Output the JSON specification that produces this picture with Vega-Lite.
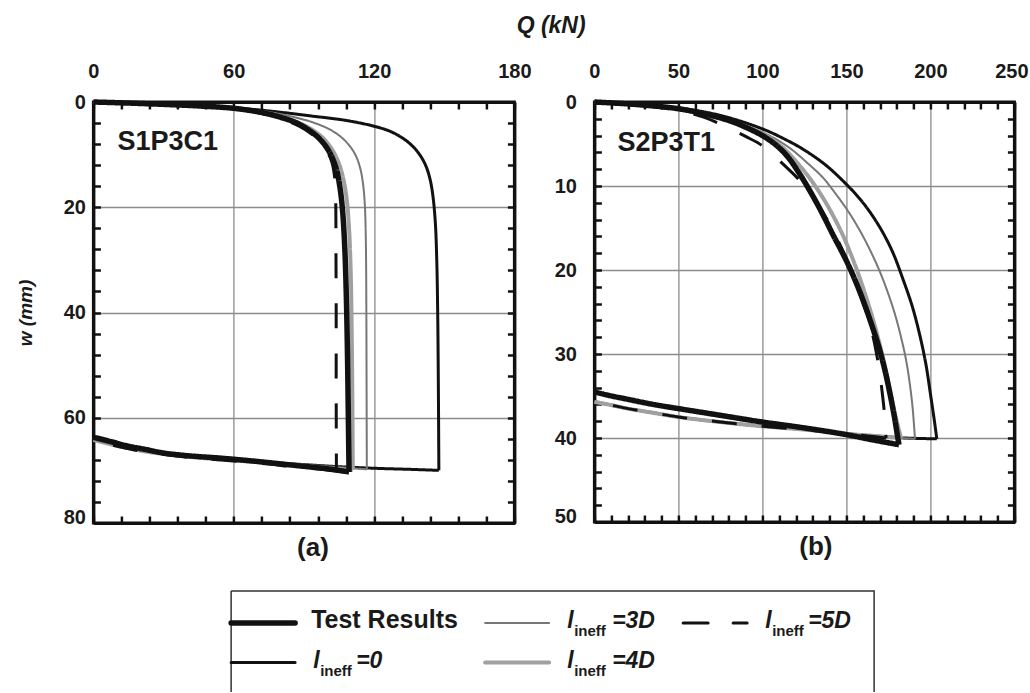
{
  "$schema": "https://vega.github.io/schema/vega-lite/v6.json",
  "background": "white",
  "padding": {"left": 14, "top": 14, "right": 0, "bottom": 0},
  "title": {"text": "Q (kN)", "font": "Liberation Sans", "fontSize": 23, "fontStyle": "italic", "fontWeight": "bold", "color": "#1a1a1a", "anchor": "middle", "dx": 29, "offset": 22},
  "datasets": {
    "a": [
      {"s":"lineff=0","g":"load","i":0,"Q":0,"w":0},{"s":"lineff=0","g":"load","i":1,"Q":15,"w":0.2},{"s":"lineff=0","g":"load","i":2,"Q":30,"w":0.4},{"s":"lineff=0","g":"load","i":3,"Q":45,"w":0.7},{"s":"lineff=0","g":"load","i":4,"Q":60,"w":1.1},{"s":"lineff=0","g":"load","i":5,"Q":75,"w":1.7},{"s":"lineff=0","g":"load","i":6,"Q":94,"w":2.7},{"s":"lineff=0","g":"load","i":7,"Q":108,"w":3.5},{"s":"lineff=0","g":"load","i":8,"Q":120,"w":4.6},{"s":"lineff=0","g":"load","i":9,"Q":127,"w":5.6},{"s":"lineff=0","g":"load","i":10,"Q":132,"w":6.8},{"s":"lineff=0","g":"load","i":11,"Q":136,"w":8.2},{"s":"lineff=0","g":"load","i":12,"Q":139.5,"w":10},{"s":"lineff=0","g":"load","i":13,"Q":142.2,"w":12.2},{"s":"lineff=0","g":"load","i":14,"Q":144,"w":14.8},{"s":"lineff=0","g":"load","i":15,"Q":145.2,"w":18},{"s":"lineff=0","g":"load","i":16,"Q":146.2,"w":23},{"s":"lineff=0","g":"load","i":17,"Q":146.8,"w":30},{"s":"lineff=0","g":"load","i":18,"Q":147.2,"w":40},{"s":"lineff=0","g":"load","i":19,"Q":147.5,"w":55},{"s":"lineff=0","g":"load","i":20,"Q":147.7,"w":70},
      {"s":"lineff=0","g":"unload","i":21,"Q":147.7,"w":70},{"s":"lineff=0","g":"unload","i":22,"Q":135,"w":69.8},{"s":"lineff=0","g":"unload","i":23,"Q":120,"w":69.6},{"s":"lineff=0","g":"unload","i":24,"Q":105,"w":69.3},{"s":"lineff=0","g":"unload","i":25,"Q":90,"w":68.9},{"s":"lineff=0","g":"unload","i":26,"Q":75,"w":68.5},{"s":"lineff=0","g":"unload","i":27,"Q":60,"w":68.0},{"s":"lineff=0","g":"unload","i":28,"Q":45,"w":67.5},{"s":"lineff=0","g":"unload","i":29,"Q":32,"w":66.9},{"s":"lineff=0","g":"unload","i":30,"Q":22,"w":66.3},{"s":"lineff=0","g":"unload","i":31,"Q":14,"w":65.6},{"s":"lineff=0","g":"unload","i":32,"Q":7,"w":64.9},{"s":"lineff=0","g":"unload","i":33,"Q":0,"w":64.1},
      {"s":"lineff=3D","g":"load","i":0,"Q":0,"w":0},{"s":"lineff=3D","g":"load","i":1,"Q":15,"w":0.2},{"s":"lineff=3D","g":"load","i":2,"Q":30,"w":0.4},{"s":"lineff=3D","g":"load","i":3,"Q":45,"w":0.7},{"s":"lineff=3D","g":"load","i":4,"Q":60,"w":1.1},{"s":"lineff=3D","g":"load","i":5,"Q":75,"w":1.9},{"s":"lineff=3D","g":"load","i":6,"Q":86,"w":2.9},{"s":"lineff=3D","g":"load","i":7,"Q":94,"w":3.9},{"s":"lineff=3D","g":"load","i":8,"Q":101,"w":5.2},{"s":"lineff=3D","g":"load","i":9,"Q":106,"w":6.7},{"s":"lineff=3D","g":"load","i":10,"Q":110,"w":8.6},{"s":"lineff=3D","g":"load","i":11,"Q":112.5,"w":10.5},{"s":"lineff=3D","g":"load","i":12,"Q":114.3,"w":13},{"s":"lineff=3D","g":"load","i":13,"Q":115.4,"w":16},{"s":"lineff=3D","g":"load","i":14,"Q":116.1,"w":20},{"s":"lineff=3D","g":"load","i":15,"Q":116.5,"w":27},{"s":"lineff=3D","g":"load","i":16,"Q":116.7,"w":40},{"s":"lineff=3D","g":"load","i":17,"Q":116.8,"w":55},{"s":"lineff=3D","g":"load","i":18,"Q":116.9,"w":69.8},
      {"s":"lineff=3D","g":"unload","i":19,"Q":116.9,"w":69.8},{"s":"lineff=3D","g":"unload","i":20,"Q":105,"w":69.4},{"s":"lineff=3D","g":"unload","i":21,"Q":90,"w":68.9},{"s":"lineff=3D","g":"unload","i":22,"Q":75,"w":68.5},{"s":"lineff=3D","g":"unload","i":23,"Q":60,"w":68.0},{"s":"lineff=3D","g":"unload","i":24,"Q":45,"w":67.5},{"s":"lineff=3D","g":"unload","i":25,"Q":32,"w":66.9},{"s":"lineff=3D","g":"unload","i":26,"Q":22,"w":66.3},{"s":"lineff=3D","g":"unload","i":27,"Q":14,"w":65.6},{"s":"lineff=3D","g":"unload","i":28,"Q":7,"w":64.9},{"s":"lineff=3D","g":"unload","i":29,"Q":0,"w":64.1},
      {"s":"lineff=4D","g":"load","i":0,"Q":0,"w":0},{"s":"lineff=4D","g":"load","i":1,"Q":15,"w":0.2},{"s":"lineff=4D","g":"load","i":2,"Q":30,"w":0.45},{"s":"lineff=4D","g":"load","i":3,"Q":45,"w":0.75},{"s":"lineff=4D","g":"load","i":4,"Q":60,"w":1.15},{"s":"lineff=4D","g":"load","i":5,"Q":72,"w":2.0},{"s":"lineff=4D","g":"load","i":6,"Q":81,"w":2.9},{"s":"lineff=4D","g":"load","i":7,"Q":88,"w":4.0},{"s":"lineff=4D","g":"load","i":8,"Q":94,"w":5.4},{"s":"lineff=4D","g":"load","i":9,"Q":98.5,"w":7.0},{"s":"lineff=4D","g":"load","i":10,"Q":102,"w":9},{"s":"lineff=4D","g":"load","i":11,"Q":104.8,"w":11.5},{"s":"lineff=4D","g":"load","i":12,"Q":106.8,"w":14.5},{"s":"lineff=4D","g":"load","i":13,"Q":108.3,"w":18.5},{"s":"lineff=4D","g":"load","i":14,"Q":109.3,"w":24},{"s":"lineff=4D","g":"load","i":15,"Q":110,"w":32},{"s":"lineff=4D","g":"load","i":16,"Q":110.4,"w":42},{"s":"lineff=4D","g":"load","i":17,"Q":110.7,"w":55},{"s":"lineff=4D","g":"load","i":18,"Q":110.9,"w":69.9},
      {"s":"lineff=4D","g":"unload","i":19,"Q":110.9,"w":69.9},{"s":"lineff=4D","g":"unload","i":20,"Q":100,"w":69.6},{"s":"lineff=4D","g":"unload","i":21,"Q":90,"w":69.1},{"s":"lineff=4D","g":"unload","i":22,"Q":75,"w":68.6},{"s":"lineff=4D","g":"unload","i":23,"Q":60,"w":68.1},{"s":"lineff=4D","g":"unload","i":24,"Q":45,"w":67.6},{"s":"lineff=4D","g":"unload","i":25,"Q":32,"w":67.0},{"s":"lineff=4D","g":"unload","i":26,"Q":22,"w":66.4},{"s":"lineff=4D","g":"unload","i":27,"Q":14,"w":65.7},{"s":"lineff=4D","g":"unload","i":28,"Q":7,"w":65.0},{"s":"lineff=4D","g":"unload","i":29,"Q":0,"w":64.2},
      {"s":"Test Results","g":"load","i":0,"Q":0,"w":0},{"s":"Test Results","g":"load","i":1,"Q":15,"w":0.2},{"s":"Test Results","g":"load","i":2,"Q":30,"w":0.45},{"s":"Test Results","g":"load","i":3,"Q":45,"w":0.75},{"s":"Test Results","g":"load","i":4,"Q":60,"w":1.2},{"s":"Test Results","g":"load","i":5,"Q":72,"w":2.0},{"s":"Test Results","g":"load","i":6,"Q":80,"w":2.9},{"s":"Test Results","g":"load","i":7,"Q":87,"w":4.0},{"s":"Test Results","g":"load","i":8,"Q":92,"w":5.3},{"s":"Test Results","g":"load","i":9,"Q":96,"w":6.7},{"s":"Test Results","g":"load","i":10,"Q":99.5,"w":8.5},{"s":"Test Results","g":"load","i":11,"Q":102,"w":10.5},{"s":"Test Results","g":"load","i":12,"Q":104,"w":13},{"s":"Test Results","g":"load","i":13,"Q":105.5,"w":16.5},{"s":"Test Results","g":"load","i":14,"Q":106.6,"w":21},{"s":"Test Results","g":"load","i":15,"Q":107.5,"w":28},{"s":"Test Results","g":"load","i":16,"Q":108.2,"w":38},{"s":"Test Results","g":"load","i":17,"Q":108.7,"w":50},{"s":"Test Results","g":"load","i":18,"Q":109,"w":60},{"s":"Test Results","g":"load","i":19,"Q":109.3,"w":70.3},
      {"s":"Test Results","g":"unload","i":20,"Q":109.3,"w":70.3},{"s":"Test Results","g":"unload","i":21,"Q":100,"w":69.7},{"s":"Test Results","g":"unload","i":22,"Q":85,"w":69.0},{"s":"Test Results","g":"unload","i":23,"Q":70,"w":68.3},{"s":"Test Results","g":"unload","i":24,"Q":55,"w":67.7},{"s":"Test Results","g":"unload","i":25,"Q":40,"w":67.2},{"s":"Test Results","g":"unload","i":26,"Q":30,"w":66.7},{"s":"Test Results","g":"unload","i":27,"Q":22,"w":66.0},{"s":"Test Results","g":"unload","i":28,"Q":15,"w":65.4},{"s":"Test Results","g":"unload","i":29,"Q":8,"w":64.6},{"s":"Test Results","g":"unload","i":30,"Q":0,"w":63.7},
      {"s":"lineff=5D","g":"load","i":0,"Q":0,"w":0},{"s":"lineff=5D","g":"load","i":1,"Q":15,"w":0.2},{"s":"lineff=5D","g":"load","i":2,"Q":30,"w":0.45},{"s":"lineff=5D","g":"load","i":3,"Q":45,"w":0.8},{"s":"lineff=5D","g":"load","i":4,"Q":60,"w":1.25},{"s":"lineff=5D","g":"load","i":5,"Q":72,"w":2.2},{"s":"lineff=5D","g":"load","i":6,"Q":81,"w":3.3},{"s":"lineff=5D","g":"load","i":7,"Q":88,"w":4.6},{"s":"lineff=5D","g":"load","i":8,"Q":93,"w":6.0},{"s":"lineff=5D","g":"load","i":9,"Q":97,"w":7.6},{"s":"lineff=5D","g":"load","i":10,"Q":100,"w":9.4},{"s":"lineff=5D","g":"load","i":11,"Q":102,"w":11.5},{"s":"lineff=5D","g":"load","i":12,"Q":103.2,"w":14.5},{"s":"lineff=5D","g":"load","i":13,"Q":103.6,"w":19},{"s":"lineff=5D","g":"load","i":14,"Q":103.7,"w":28},{"s":"lineff=5D","g":"load","i":15,"Q":103.8,"w":40},{"s":"lineff=5D","g":"load","i":16,"Q":103.8,"w":55},{"s":"lineff=5D","g":"load","i":17,"Q":103.9,"w":70.1},
      {"s":"lineff=5D","g":"unload","i":18,"Q":103.9,"w":70.1},{"s":"lineff=5D","g":"unload","i":19,"Q":95,"w":69.7},{"s":"lineff=5D","g":"unload","i":20,"Q":85,"w":69.3},{"s":"lineff=5D","g":"unload","i":21,"Q":75,"w":68.8},{"s":"lineff=5D","g":"unload","i":22,"Q":60,"w":68.2},{"s":"lineff=5D","g":"unload","i":23,"Q":45,"w":67.7},{"s":"lineff=5D","g":"unload","i":24,"Q":32,"w":67.1},{"s":"lineff=5D","g":"unload","i":25,"Q":22,"w":66.5},{"s":"lineff=5D","g":"unload","i":26,"Q":14,"w":65.8},{"s":"lineff=5D","g":"unload","i":27,"Q":7,"w":65.1},{"s":"lineff=5D","g":"unload","i":28,"Q":0,"w":64.3}
    ],
    "b": [
      {"s":"lineff=0","g":"load","i":0,"Q":0,"w":0},{"s":"lineff=0","g":"load","i":1,"Q":25,"w":0.3},{"s":"lineff=0","g":"load","i":2,"Q":50,"w":0.7},{"s":"lineff=0","g":"load","i":3,"Q":75,"w":1.6},{"s":"lineff=0","g":"load","i":4,"Q":100,"w":3.2},{"s":"lineff=0","g":"load","i":5,"Q":115,"w":4.6},{"s":"lineff=0","g":"load","i":6,"Q":124,"w":5.6},{"s":"lineff=0","g":"load","i":7,"Q":137,"w":7.4},{"s":"lineff=0","g":"load","i":8,"Q":148,"w":9.4},{"s":"lineff=0","g":"load","i":9,"Q":157,"w":11.3},{"s":"lineff=0","g":"load","i":10,"Q":164,"w":13.1},{"s":"lineff=0","g":"load","i":11,"Q":171,"w":15.3},{"s":"lineff=0","g":"load","i":12,"Q":177.6,"w":17.9},{"s":"lineff=0","g":"load","i":13,"Q":183.5,"w":21},{"s":"lineff=0","g":"load","i":14,"Q":189,"w":24.2},{"s":"lineff=0","g":"load","i":15,"Q":193.5,"w":27.6},{"s":"lineff=0","g":"load","i":16,"Q":197.3,"w":31.2},{"s":"lineff=0","g":"load","i":17,"Q":200.2,"w":35},{"s":"lineff=0","g":"load","i":18,"Q":202.4,"w":38},{"s":"lineff=0","g":"load","i":19,"Q":203.8,"w":40.1},
      {"s":"lineff=0","g":"unload","i":20,"Q":203.8,"w":40.1},{"s":"lineff=0","g":"unload","i":21,"Q":185,"w":40.0},{"s":"lineff=0","g":"unload","i":22,"Q":170,"w":39.8},{"s":"lineff=0","g":"unload","i":23,"Q":150,"w":39.5},{"s":"lineff=0","g":"unload","i":24,"Q":125,"w":39.0},{"s":"lineff=0","g":"unload","i":25,"Q":100,"w":38.6},{"s":"lineff=0","g":"unload","i":26,"Q":75,"w":38.1},{"s":"lineff=0","g":"unload","i":27,"Q":50,"w":37.5},{"s":"lineff=0","g":"unload","i":28,"Q":35,"w":37.0},{"s":"lineff=0","g":"unload","i":29,"Q":20,"w":36.5},{"s":"lineff=0","g":"unload","i":30,"Q":8,"w":36.0},{"s":"lineff=0","g":"unload","i":31,"Q":0,"w":35.7},
      {"s":"lineff=3D","g":"load","i":0,"Q":0,"w":0},{"s":"lineff=3D","g":"load","i":1,"Q":25,"w":0.3},{"s":"lineff=3D","g":"load","i":2,"Q":50,"w":0.8},{"s":"lineff=3D","g":"load","i":3,"Q":75,"w":1.8},{"s":"lineff=3D","g":"load","i":4,"Q":100,"w":3.6},{"s":"lineff=3D","g":"load","i":5,"Q":115,"w":5.3},{"s":"lineff=3D","g":"load","i":6,"Q":127,"w":7.3},{"s":"lineff=3D","g":"load","i":7,"Q":136,"w":9.0},{"s":"lineff=3D","g":"load","i":8,"Q":143.5,"w":10.9},{"s":"lineff=3D","g":"load","i":9,"Q":151,"w":13.0},{"s":"lineff=3D","g":"load","i":10,"Q":158,"w":15.3},{"s":"lineff=3D","g":"load","i":11,"Q":164,"w":17.6},{"s":"lineff=3D","g":"load","i":12,"Q":169.5,"w":20},{"s":"lineff=3D","g":"load","i":13,"Q":174.5,"w":22.6},{"s":"lineff=3D","g":"load","i":14,"Q":178.8,"w":25.2},{"s":"lineff=3D","g":"load","i":15,"Q":182.4,"w":27.9},{"s":"lineff=3D","g":"load","i":16,"Q":185.4,"w":30.6},{"s":"lineff=3D","g":"load","i":17,"Q":187.7,"w":33.5},{"s":"lineff=3D","g":"load","i":18,"Q":189.5,"w":36.6},{"s":"lineff=3D","g":"load","i":19,"Q":190.8,"w":40.1},
      {"s":"lineff=3D","g":"unload","i":20,"Q":190.8,"w":40.1},{"s":"lineff=3D","g":"unload","i":21,"Q":175,"w":39.9},{"s":"lineff=3D","g":"unload","i":22,"Q":160,"w":39.7},{"s":"lineff=3D","g":"unload","i":23,"Q":150,"w":39.5},{"s":"lineff=3D","g":"unload","i":24,"Q":125,"w":39.0},{"s":"lineff=3D","g":"unload","i":25,"Q":100,"w":38.6},{"s":"lineff=3D","g":"unload","i":26,"Q":75,"w":38.1},{"s":"lineff=3D","g":"unload","i":27,"Q":50,"w":37.5},{"s":"lineff=3D","g":"unload","i":28,"Q":35,"w":37.0},{"s":"lineff=3D","g":"unload","i":29,"Q":20,"w":36.5},{"s":"lineff=3D","g":"unload","i":30,"Q":8,"w":36.0},{"s":"lineff=3D","g":"unload","i":31,"Q":0,"w":35.7},
      {"s":"lineff=4D","g":"load","i":0,"Q":0,"w":0},{"s":"lineff=4D","g":"load","i":1,"Q":25,"w":0.3},{"s":"lineff=4D","g":"load","i":2,"Q":50,"w":0.8},{"s":"lineff=4D","g":"load","i":3,"Q":75,"w":1.9},{"s":"lineff=4D","g":"load","i":4,"Q":100,"w":3.8},{"s":"lineff=4D","g":"load","i":5,"Q":112,"w":5.4},{"s":"lineff=4D","g":"load","i":6,"Q":121,"w":7.3},{"s":"lineff=4D","g":"load","i":7,"Q":129,"w":9.3},{"s":"lineff=4D","g":"load","i":8,"Q":136,"w":11.4},{"s":"lineff=4D","g":"load","i":9,"Q":142,"w":13.5},{"s":"lineff=4D","g":"load","i":10,"Q":148,"w":15.9},{"s":"lineff=4D","g":"load","i":11,"Q":153,"w":18.3},{"s":"lineff=4D","g":"load","i":12,"Q":157.5,"w":20.7},{"s":"lineff=4D","g":"load","i":13,"Q":162,"w":23.4},{"s":"lineff=4D","g":"load","i":14,"Q":166,"w":26.0},{"s":"lineff=4D","g":"load","i":15,"Q":169.5,"w":28.6},{"s":"lineff=4D","g":"load","i":16,"Q":173,"w":31.5},{"s":"lineff=4D","g":"load","i":17,"Q":176,"w":34.3},{"s":"lineff=4D","g":"load","i":18,"Q":179,"w":37.2},{"s":"lineff=4D","g":"load","i":19,"Q":182.5,"w":40.0},
      {"s":"lineff=4D","g":"unload","i":20,"Q":182.5,"w":40.0},{"s":"lineff=4D","g":"unload","i":21,"Q":170,"w":39.8},{"s":"lineff=4D","g":"unload","i":22,"Q":150,"w":39.5},{"s":"lineff=4D","g":"unload","i":23,"Q":125,"w":39.0},{"s":"lineff=4D","g":"unload","i":24,"Q":100,"w":38.6},{"s":"lineff=4D","g":"unload","i":25,"Q":75,"w":38.1},{"s":"lineff=4D","g":"unload","i":26,"Q":50,"w":37.5},{"s":"lineff=4D","g":"unload","i":27,"Q":35,"w":37.0},{"s":"lineff=4D","g":"unload","i":28,"Q":20,"w":36.5},{"s":"lineff=4D","g":"unload","i":29,"Q":8,"w":36.0},{"s":"lineff=4D","g":"unload","i":30,"Q":0,"w":35.7},
      {"s":"Test Results","g":"load","i":0,"Q":0,"w":0},{"s":"Test Results","g":"load","i":1,"Q":25,"w":0.3},{"s":"Test Results","g":"load","i":2,"Q":50,"w":0.8},{"s":"Test Results","g":"load","i":3,"Q":65,"w":1.4},{"s":"Test Results","g":"load","i":4,"Q":80,"w":2.2},{"s":"Test Results","g":"load","i":5,"Q":90,"w":3.0},{"s":"Test Results","g":"load","i":6,"Q":100,"w":4.0},{"s":"Test Results","g":"load","i":7,"Q":108,"w":5.1},{"s":"Test Results","g":"load","i":8,"Q":115,"w":6.5},{"s":"Test Results","g":"load","i":9,"Q":121,"w":8.2},{"s":"Test Results","g":"load","i":10,"Q":126,"w":9.8},{"s":"Test Results","g":"load","i":11,"Q":132,"w":11.9},{"s":"Test Results","g":"load","i":12,"Q":137,"w":13.8},{"s":"Test Results","g":"load","i":13,"Q":142,"w":15.8},{"s":"Test Results","g":"load","i":14,"Q":150,"w":18.9},{"s":"Test Results","g":"load","i":15,"Q":156,"w":21.6},{"s":"Test Results","g":"load","i":16,"Q":161,"w":24.2},{"s":"Test Results","g":"load","i":17,"Q":165.5,"w":26.8},{"s":"Test Results","g":"load","i":18,"Q":169.5,"w":29.3},{"s":"Test Results","g":"load","i":19,"Q":173,"w":32},{"s":"Test Results","g":"load","i":20,"Q":176,"w":34.8},{"s":"Test Results","g":"load","i":21,"Q":178.5,"w":37.4},{"s":"Test Results","g":"load","i":22,"Q":180.3,"w":39.6},{"s":"Test Results","g":"load","i":23,"Q":181.3,"w":40.8},
      {"s":"Test Results","g":"unload","i":24,"Q":181.3,"w":40.8},{"s":"Test Results","g":"unload","i":25,"Q":165,"w":40.2},{"s":"Test Results","g":"unload","i":26,"Q":150,"w":39.6},{"s":"Test Results","g":"unload","i":27,"Q":125,"w":38.8},{"s":"Test Results","g":"unload","i":28,"Q":100,"w":38.1},{"s":"Test Results","g":"unload","i":29,"Q":75,"w":37.3},{"s":"Test Results","g":"unload","i":30,"Q":50,"w":36.5},{"s":"Test Results","g":"unload","i":31,"Q":35,"w":36.0},{"s":"Test Results","g":"unload","i":32,"Q":20,"w":35.4},{"s":"Test Results","g":"unload","i":33,"Q":8,"w":34.9},{"s":"Test Results","g":"unload","i":34,"Q":0,"w":34.5},
      {"s":"lineff=5D","g":"load","i":0,"Q":0,"w":0},{"s":"lineff=5D","g":"load","i":1,"Q":25,"w":0.35},{"s":"lineff=5D","g":"load","i":2,"Q":50,"w":1.0},{"s":"lineff=5D","g":"load","i":3,"Q":65,"w":1.8},{"s":"lineff=5D","g":"load","i":4,"Q":78,"w":2.9},{"s":"lineff=5D","g":"load","i":5,"Q":90,"w":4.1},{"s":"lineff=5D","g":"load","i":6,"Q":100,"w":5.2},{"s":"lineff=5D","g":"load","i":7,"Q":108,"w":6.6},{"s":"lineff=5D","g":"load","i":8,"Q":115,"w":7.9},{"s":"lineff=5D","g":"load","i":9,"Q":122,"w":9.3},{"s":"lineff=5D","g":"load","i":10,"Q":130,"w":11.4},{"s":"lineff=5D","g":"load","i":11,"Q":138,"w":13.8},{"s":"lineff=5D","g":"load","i":12,"Q":145,"w":16.5},{"s":"lineff=5D","g":"load","i":13,"Q":151,"w":19.2},{"s":"lineff=5D","g":"load","i":14,"Q":156,"w":21.8},{"s":"lineff=5D","g":"load","i":15,"Q":161,"w":24.5},{"s":"lineff=5D","g":"load","i":16,"Q":164.5,"w":26.8},{"s":"lineff=5D","g":"load","i":17,"Q":167.3,"w":29.3},{"s":"lineff=5D","g":"load","i":18,"Q":169.5,"w":31.8},{"s":"lineff=5D","g":"load","i":19,"Q":171.2,"w":34.4},{"s":"lineff=5D","g":"load","i":20,"Q":172.6,"w":37},{"s":"lineff=5D","g":"load","i":21,"Q":173.6,"w":40.0},
      {"s":"lineff=5D","g":"unload","i":22,"Q":173.6,"w":40.0},{"s":"lineff=5D","g":"unload","i":23,"Q":160,"w":39.7},{"s":"lineff=5D","g":"unload","i":24,"Q":150,"w":39.5},{"s":"lineff=5D","g":"unload","i":25,"Q":125,"w":39.0},{"s":"lineff=5D","g":"unload","i":26,"Q":100,"w":38.6},{"s":"lineff=5D","g":"unload","i":27,"Q":75,"w":38.1},{"s":"lineff=5D","g":"unload","i":28,"Q":50,"w":37.5},{"s":"lineff=5D","g":"unload","i":29,"Q":35,"w":37.0},{"s":"lineff=5D","g":"unload","i":30,"Q":20,"w":36.5},{"s":"lineff=5D","g":"unload","i":31,"Q":8,"w":36.0},{"s":"lineff=5D","g":"unload","i":32,"Q":0,"w":35.7}
    ]
  },
  "vconcat": [
    {
      "spacing": 19,
      "hconcat": [
        {
          "width": 421,
          "height": 421,
          "layer": [
            {
              "data": {"name": "a"},
              "mark": {"type": "line", "interpolate": "catmull-rom", "strokeJoin": "round"},
              "encoding": {
                "x": {"field": "Q", "type": "quantitative", "scale": {"domain": [0, 180], "nice": false, "zero": false},
                      "axis": {"orient": "top", "values": [0,12,24,36,48,60,72,84,96,108,120,132,144,156,168,180], "labelExpr": "datum.value % 60 === 0 ? datum.label : ''", "title": null, "grid": true,
                               "gridColor": {"condition": {"test": "datum.value % 60 === 0 && datum.value > 0 && datum.value < 180", "value": "#8c8c8c"}, "value": "transparent"},
                               "labelPadding": 28, "labelFlush": false, "labelOverlap": false}},
                "y": {"field": "w", "type": "quantitative", "scale": {"domain": [0, 80], "reverse": true, "nice": false, "zero": false},
                      "axis": {"orient": "left", "values": [0,4,8,12,16,20,24,28,32,36,40,44,48,52,56,60,64,68,72,76,80], "labelExpr": "datum.value % 20 === 0 ? datum.label : ''", "grid": true,
                               "gridColor": {"condition": {"test": "datum.value % 20 === 0 && datum.value > 0 && datum.value < 80", "value": "#8c8c8c"}, "value": "transparent"},
                               "labelBaseline": {"condition": {"test": "datum.value === 80", "value": "alphabetic"}, "value": "middle"},
                               "labelPadding": 15, "labelFlush": false, "labelOverlap": false,
                               "title": "w (mm)", "titleFontSize": 19, "titleFontStyle": "italic", "titlePadding": 28}},
                "color": {"field": "s", "type": "nominal", "scale": {"domain": ["Test Results","lineff=0","lineff=3D","lineff=4D","lineff=5D"], "range": ["#111111","#111111","#777777","#a0a0a0","#111111"]}, "legend": null},
                "strokeWidth": {"field": "s", "type": "nominal", "scale": {"type": "ordinal", "domain": ["Test Results","lineff=0","lineff=3D","lineff=4D","lineff=5D"], "range": [5.5, 3, 2, 4, 3]}, "legend": null},
                "strokeDash": {"field": "s", "type": "nominal", "scale": {"domain": ["Test Results","lineff=0","lineff=3D","lineff=4D","lineff=5D"], "range": [[1,0],[1,0],[1,0],[1,0],[25,25]]}, "legend": null},
                "detail": {"field": "g", "type": "nominal"},
                "order": {"field": "i", "type": "quantitative"}
              }
            },
            {
              "data": {"values": [{"label": "S1P3C1"}]},
              "mark": {"type": "text", "align": "left", "baseline": "alphabetic", "font": "Liberation Sans", "fontSize": 27, "fontWeight": "bold", "color": "#1a1a1a"},
              "encoding": {
                "text": {"field": "label"},
                "x": {"datum": 10.3, "type": "quantitative", "scale": {"domain": [0, 180], "nice": false, "zero": false},
                      "axis": {"orient": "bottom", "values": [0,12,24,36,48,60,72,84,96,108,120,132,144,156,168,180], "labels": false, "grid": false,
                               "title": "(a)", "titleFontSize": 26, "titlePadding": 10, "titleX": 219}},
                "y": {"datum": 9.2, "type": "quantitative", "scale": {"domain": [0, 80], "reverse": true, "nice": false, "zero": false},
                      "axis": {"orient": "right", "values": [0,4,8,12,16,20,24,28,32,36,40,44,48,52,56,60,64,68,72,76,80], "labels": false, "grid": false, "title": null}}
              }
            }
          ],
          "resolve": {"axis": {"x": "independent", "y": "independent"}}
        },
        {
          "width": 420,
          "height": 420,
          "layer": [
            {
              "data": {"name": "b"},
              "mark": {"type": "line", "interpolate": "catmull-rom", "strokeJoin": "round"},
              "encoding": {
                "x": {"field": "Q", "type": "quantitative", "scale": {"domain": [0, 250], "nice": false, "zero": false},
                      "axis": {"orient": "top", "values": [0,10,20,30,40,50,60,70,80,90,100,110,120,130,140,150,160,170,180,190,200,210,220,230,240,250], "labelExpr": "datum.value % 50 === 0 ? datum.label : ''", "title": null, "grid": true,
                               "gridColor": {"condition": {"test": "datum.value % 50 === 0 && datum.value > 0 && datum.value < 250", "value": "#8c8c8c"}, "value": "transparent"},
                               "labelOffset": {"condition": {"test": "datum.value === 250", "value": -3}, "value": 0},
                               "labelPadding": 28, "labelFlush": false, "labelOverlap": false}},
                "y": {"field": "w", "type": "quantitative", "scale": {"domain": [0, 50], "reverse": true, "nice": false, "zero": false},
                      "axis": {"orient": "left", "values": [0,2,4,6,8,10,12,14,16,18,20,22,24,26,28,30,32,34,36,38,40,42,44,46,48,50], "labelExpr": "datum.value % 10 === 0 ? datum.label : ''", "grid": true,
                               "gridColor": {"condition": {"test": "datum.value % 10 === 0 && datum.value > 0 && datum.value < 50", "value": "#8c8c8c"}, "value": "transparent"},
                               "labelBaseline": {"condition": {"test": "datum.value === 50", "value": "alphabetic"}, "value": "middle"},
                               "labelPadding": 25, "labelFlush": false, "labelOverlap": false, "title": null}},
                "color": {"field": "s", "type": "nominal", "scale": {"domain": ["Test Results","lineff=0","lineff=3D","lineff=4D","lineff=5D"], "range": ["#111111","#111111","#777777","#a0a0a0","#111111"]}, "legend": null},
                "strokeWidth": {"field": "s", "type": "nominal", "scale": {"type": "ordinal", "domain": ["Test Results","lineff=0","lineff=3D","lineff=4D","lineff=5D"], "range": [5.5, 3, 2, 4, 3]}, "legend": null},
                "strokeDash": {"field": "s", "type": "nominal", "scale": {"domain": ["Test Results","lineff=0","lineff=3D","lineff=4D","lineff=5D"], "range": [[1,0],[1,0],[1,0],[1,0],[25,25]]}, "legend": null},
                "detail": {"field": "g", "type": "nominal"},
                "order": {"field": "i", "type": "quantitative"}
              }
            },
            {
              "data": {"values": [{"label": "S2P3T1"}]},
              "mark": {"type": "text", "align": "left", "baseline": "alphabetic", "font": "Liberation Sans", "fontSize": 27, "fontWeight": "bold", "color": "#1a1a1a"},
              "encoding": {
                "text": {"field": "label"},
                "x": {"datum": 13.7, "type": "quantitative", "scale": {"domain": [0, 250], "nice": false, "zero": false},
                      "axis": {"orient": "bottom", "values": [0,10,20,30,40,50,60,70,80,90,100,110,120,130,140,150,160,170,180,190,200,210,220,230,240,250], "labels": false, "grid": false,
                               "title": "(b)", "titleFontSize": 26, "titlePadding": 10, "titleX": 221}},
                "y": {"datum": 5.83, "type": "quantitative", "scale": {"domain": [0, 50], "reverse": true, "nice": false, "zero": false},
                      "axis": {"orient": "right", "values": [0,2,4,6,8,10,12,14,16,18,20,22,24,26,28,30,32,34,36,38,40,42,44,46,48,50], "labels": false, "grid": false, "title": null}}
              }
            }
          ],
          "resolve": {"axis": {"x": "independent", "y": "independent"}}
        }
      ]
    },
    {
      "width": 643,
      "height": 101,
      "view": {"stroke": "#333333", "strokeWidth": 1.5, "strokeDash": [744, 643, 101, 0]},
      "data": {"values": [
        {"s": "Test Results", "col": "c0", "row": "r0", "l": "", "sub": "", "eq": "Test Results"},
        {"s": "lineff=0", "col": "c0", "row": "r1", "l": "l", "sub": "ineff", "eq": "=0"},
        {"s": "lineff=3D", "col": "c1", "row": "r0", "l": "l", "sub": "ineff", "eq": "=3D"},
        {"s": "lineff=4D", "col": "c1", "row": "r1", "l": "l", "sub": "ineff", "eq": "=4D"},
        {"s": "lineff=5D", "col": "c2", "row": "r0", "l": "l", "sub": "ineff", "eq": "=5D"}
      ]},
      "encoding": {
        "x": {"field": "col", "type": "nominal", "scale": {"type": "point", "domain": ["c0","c1","c2"], "range": [0, 452], "padding": 0}, "axis": null},
        "y": {"field": "row", "type": "nominal", "scale": {"type": "point", "domain": ["r0","r1"], "range": [32, 71.5], "padding": 0},
              "axis": {"orient": "right", "labels": false, "ticks": false, "grid": false, "domain": true, "domainOpacity": 0, "offset": 17, "title": null}}
      },
      "layer": [
        {
          "transform": [{"filter": "datum.col !== 'c1'"}],
          "mark": {"type": "rule", "x2Offset": 64, "strokeCap": "round"},
          "encoding": {
            "x2": {"field": "col"},
            "color": {"field": "s", "type": "nominal", "scale": {"domain": ["Test Results","lineff=0","lineff=3D","lineff=4D","lineff=5D"], "range": ["#111111","#111111","#777777","#a0a0a0","#111111"]}, "legend": null},
            "strokeWidth": {"field": "s", "type": "nominal", "scale": {"type": "ordinal", "domain": ["Test Results","lineff=0","lineff=3D","lineff=4D","lineff=5D"], "range": [5.5, 3, 2, 4, 3]}, "legend": null},
            "strokeDash": {"field": "s", "type": "nominal", "scale": {"domain": ["Test Results","lineff=0","lineff=3D","lineff=4D","lineff=5D"], "range": [[1,0],[1,0],[1,0],[1,0],[25,25]]}, "legend": null}
          }
        },
        {
          "transform": [{"filter": "datum.col === 'c1'"}],
          "mark": {"type": "rule", "xOffset": 28, "x2Offset": 92, "strokeCap": "round"},
          "encoding": {
            "x2": {"field": "col"},
            "color": {"field": "s", "type": "nominal", "scale": {"domain": ["Test Results","lineff=0","lineff=3D","lineff=4D","lineff=5D"], "range": ["#111111","#111111","#777777","#a0a0a0","#111111"]}, "legend": null},
            "strokeWidth": {"field": "s", "type": "nominal", "scale": {"type": "ordinal", "domain": ["Test Results","lineff=0","lineff=3D","lineff=4D","lineff=5D"], "range": [5.5, 3, 2, 4, 3]}, "legend": null},
            "strokeDash": {"field": "s", "type": "nominal", "scale": {"domain": ["Test Results","lineff=0","lineff=3D","lineff=4D","lineff=5D"], "range": [[1,0],[1,0],[1,0],[1,0],[25,25]]}, "legend": null}
          }
        },
        {
          "transform": [{"filter": "datum.l === ''"}],
          "mark": {"type": "text", "align": "left", "baseline": "alphabetic", "dx": 80, "dy": 5, "font": "Liberation Sans", "fontSize": 25, "fontWeight": "bold", "color": "#1a1a1a"},
          "encoding": {"text": {"field": "eq"}}
        },
        {
          "transform": [{"filter": "datum.l !== '' && datum.col !== 'c1'"}],
          "mark": {"type": "text", "align": "left", "baseline": "alphabetic", "dx": 82, "dy": 5, "font": "Liberation Sans", "fontSize": 23, "fontWeight": "bold", "fontStyle": "italic", "color": "#1a1a1a"},
          "encoding": {"text": {"field": "l"}}
        },
        {
          "transform": [{"filter": "datum.col === 'c1'"}],
          "mark": {"type": "text", "align": "left", "baseline": "alphabetic", "dx": 110, "dy": 5, "font": "Liberation Sans", "fontSize": 23, "fontWeight": "bold", "fontStyle": "italic", "color": "#1a1a1a"},
          "encoding": {"text": {"field": "l"}}
        },
        {
          "transform": [{"filter": "datum.l !== '' && datum.col !== 'c1'"}],
          "mark": {"type": "text", "align": "left", "baseline": "alphabetic", "dx": 89, "dy": 13, "font": "Liberation Sans", "fontSize": 15, "fontWeight": "bold", "color": "#1a1a1a"},
          "encoding": {"text": {"field": "sub"}}
        },
        {
          "transform": [{"filter": "datum.col === 'c1'"}],
          "mark": {"type": "text", "align": "left", "baseline": "alphabetic", "dx": 117, "dy": 13, "font": "Liberation Sans", "fontSize": 15, "fontWeight": "bold", "color": "#1a1a1a"},
          "encoding": {"text": {"field": "sub"}}
        },
        {
          "transform": [{"filter": "datum.l !== '' && datum.col !== 'c1'"}],
          "mark": {"type": "text", "align": "left", "baseline": "alphabetic", "dx": 125, "dy": 5, "font": "Liberation Sans", "fontSize": 23, "fontWeight": "bold", "fontStyle": "italic", "color": "#1a1a1a"},
          "encoding": {"text": {"field": "eq"}}
        },
        {
          "transform": [{"filter": "datum.col === 'c1'"}],
          "mark": {"type": "text", "align": "left", "baseline": "alphabetic", "dx": 155, "dy": 5, "font": "Liberation Sans", "fontSize": 23, "fontWeight": "bold", "fontStyle": "italic", "color": "#1a1a1a"},
          "encoding": {"text": {"field": "eq"}}
        }
      ]
    }
  ],
  "spacing": 28,
  "center": true,
  "config": {
    "view": {"stroke": "#111111", "strokeWidth": 3},
    "font": "Liberation Sans",
    "axis": {"domainColor": "#111111", "domainWidth": 3, "tickColor": "#111111", "tickWidth": 2.5, "tickSize": -7,
             "labelFont": "Liberation Sans", "labelFontSize": 20, "labelFontWeight": "bold", "labelColor": "#1a1a1a",
             "gridWidth": 1.3, "titleFont": "Liberation Sans", "titleColor": "#1a1a1a", "titleFontWeight": "bold"}
  }
}
